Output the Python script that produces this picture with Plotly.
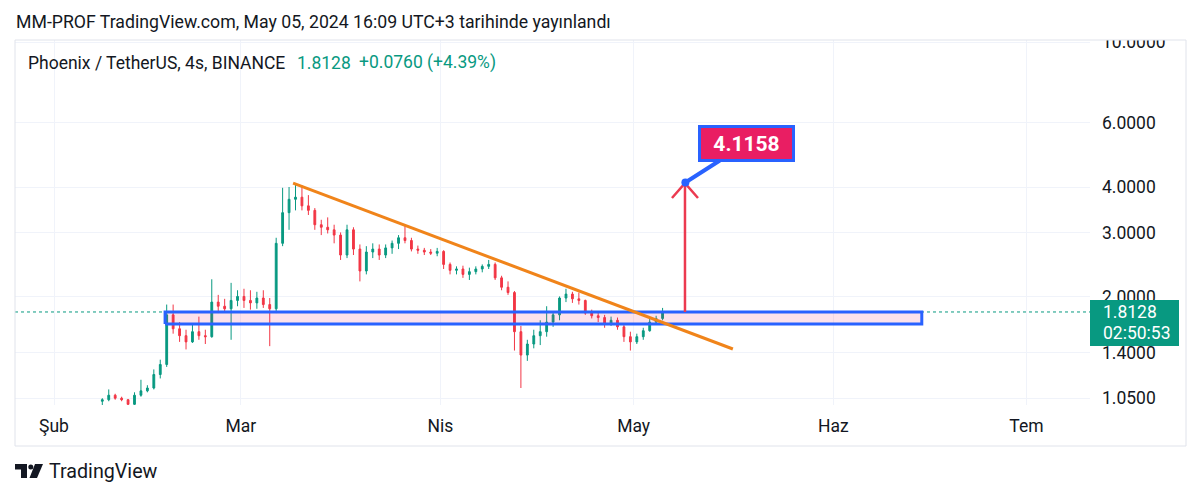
import numpy as np
import pandas as pd
import plotly.graph_objects as go

# ---------------- data (daily OHLC) ----------------
dates = pd.date_range("2024-02-08", "2024-05-05", freq="D")
opens = [1.03, 1.04, 1.07, 1.05, 1.04, 1.01, 1.07, 1.10, 1.12, 1.22,
         1.30, 1.78, 1.63, 1.56, 1.50, 1.60, 1.56, 1.55, 1.93, 1.88,
         1.85, 1.95, 2.00, 1.95, 1.92, 1.98, 1.90, 1.85, 2.80, 3.40,
         3.70, 3.75, 3.55, 3.45, 3.15, 3.10, 3.05, 2.95, 2.60, 3.05,
         2.70, 2.35, 2.65, 2.70, 2.60, 2.72, 2.80, 2.90, 2.85, 2.70,
         2.68, 2.65, 2.63, 2.66, 2.45, 2.36, 2.38, 2.30, 2.34, 2.38,
         2.42, 2.45, 2.25, 2.12, 2.05, 1.60, 1.38, 1.48, 1.56, 1.60,
         1.70, 1.78, 1.98, 2.03, 1.97, 1.95, 1.80, 1.77, 1.75, 1.68,
         1.72, 1.65, 1.55, 1.50, 1.55, 1.61, 1.70, 1.74]
highs = [1.05, 1.11, 1.08, 1.06, 1.045, 1.09, 1.18, 1.14, 1.26, 1.34,
         1.90, 1.90, 1.70, 1.62, 1.68, 1.76, 1.62, 2.23, 2.02, 1.97,
         2.18, 2.08, 2.10, 2.08, 2.06, 2.08, 1.98, 2.90, 3.98, 4.00,
         4.10, 4.05, 3.80, 3.50, 3.25, 3.30, 3.15, 3.00, 3.15, 3.10,
         2.78, 2.75, 2.80, 2.78, 2.78, 2.85, 2.95, 3.13, 2.90, 2.76,
         2.72, 2.70, 2.72, 2.68, 2.48, 2.42, 2.43, 2.40, 2.42, 2.45,
         2.52, 2.48, 2.28, 2.20, 2.07, 1.66, 1.52, 1.62, 1.72, 1.88,
         1.82, 2.00, 2.10, 2.06, 2.05, 1.96, 1.84, 1.82, 1.78, 1.76,
         1.75, 1.68, 1.60, 1.58, 1.64, 1.74, 1.77, 1.86]
lows = [1.00, 1.03, 1.04, 1.03, 0.98, 1.00, 1.06, 1.09, 1.11, 1.19,
        1.28, 1.58, 1.50, 1.43, 1.49, 1.52, 1.48, 1.54, 1.80, 1.82,
        1.52, 1.88, 1.86, 1.84, 1.85, 1.86, 1.46, 1.80, 2.75, 3.05,
        3.45, 3.45, 3.35, 3.05, 2.95, 2.98, 2.80, 2.52, 2.55, 2.60,
        2.20, 2.30, 2.55, 2.52, 2.55, 2.62, 2.70, 2.80, 2.66, 2.62,
        2.60, 2.60, 2.58, 2.38, 2.30, 2.30, 2.25, 2.22, 2.30, 2.33,
        2.38, 2.22, 2.08, 2.02, 1.42, 1.12, 1.33, 1.44, 1.47, 1.55,
        1.65, 1.72, 1.93, 1.92, 1.90, 1.78, 1.74, 1.70, 1.64, 1.66,
        1.62, 1.50, 1.42, 1.48, 1.52, 1.60, 1.67, 1.72]
closes = [1.04, 1.07, 1.05, 1.04, 1.01, 1.07, 1.10, 1.12, 1.22, 1.30,
          1.78, 1.63, 1.56, 1.50, 1.60, 1.56, 1.55, 1.93, 1.88, 1.85,
          1.95, 2.00, 1.95, 1.92, 1.98, 1.90, 1.85, 2.80, 3.40, 3.70,
          3.75, 3.55, 3.45, 3.15, 3.10, 3.05, 2.95, 2.60, 3.05, 2.70,
          2.35, 2.65, 2.70, 2.60, 2.72, 2.80, 2.90, 2.85, 2.70, 2.68,
          2.65, 2.63, 2.66, 2.45, 2.36, 2.38, 2.30, 2.34, 2.38, 2.42,
          2.45, 2.25, 2.12, 2.05, 1.60, 1.38, 1.48, 1.56, 1.60, 1.70,
          1.78, 1.98, 2.03, 1.97, 1.95, 1.80, 1.77, 1.75, 1.68, 1.72,
          1.65, 1.55, 1.50, 1.55, 1.61, 1.70, 1.74, 1.8128]

last_price = 1.8128
month_ticks = ["2024-02-01", "2024-03-01", "2024-04-01", "2024-05-01", "2024-06-01", "2024-07-01"]
month_labels = ["Şub", "Mar", "Nis", "May", "Haz", "Tem"]
price_ticks = [1.05, 1.4, 2, 3, 4, 6, 10]
price_labels = ["1.0500", "1.4000", "2.0000", "3.0000", "4.0000", "6.0000", "10.0000"]

# drawing anchors (date, price)
trend_dates = ["2024-03-09 03:00", "2024-05-16 10:00"]
trend_prices = [4.10, 1.434]
zone_dates = ["2024-02-18 06:00", "2024-06-14 18:00"]
zone_prices = [1.68, 1.812]
arrow_date = "2024-05-08 23:30"
arrow_prices = [1.812, 4.10]
head_dates = ["2024-05-06 23:00", "2024-05-08 23:30", "2024-05-11 00:00"]
head_prices = [3.73, 4.10, 3.73]
target_date = "2024-05-09 01:00"
target_price = 4.1158

# ---------------- layout geometry ----------------
W, H = 1200, 498
L, R, T, B = 15, 1090, 40, 405
x_range = [pd.Timestamp("2024-02-01") - pd.Timedelta(days=6.056),
           pd.Timestamp("2024-02-01") + pd.Timedelta(days=160.87)]
ppd = 363.6  # pixels per decade
y_range = [np.log10(4) - (B - 187) / ppd, np.log10(4) + (187 - T) / ppd]

def PX(px):
    return (px - L) / (R - L)

def PY(py):
    return (B - py) / (B - T)

UP, DOWN = "#089981", "#f23645"
TXT = "#131722"
GRID = "#f0f3fa"
BLUE = "#2962ff"
FS = 17.5

fig = go.Figure()
candle_x = [d + pd.Timedelta(hours=12) for d in dates]
fig.add_trace(go.Candlestick(
    x=candle_x, open=opens, high=highs, low=lows, close=closes,
    increasing=dict(line=dict(color=UP, width=1), fillcolor=UP),
    decreasing=dict(line=dict(color=DOWN, width=1), fillcolor=DOWN),
    whiskerwidth=0, showlegend=False, hoverinfo="skip"))

# last price dotted line
fig.add_trace(go.Scatter(x=x_range, y=[last_price, last_price], mode="lines",
                         line=dict(color=UP, width=1, dash="dot"),
                         showlegend=False, hoverinfo="skip"))

# zone rectangle
zx = [zone_dates[0], zone_dates[1], zone_dates[1], zone_dates[0], zone_dates[0]]
zy = [zone_prices[0], zone_prices[0], zone_prices[1], zone_prices[1], zone_prices[0]]
fig.add_trace(go.Scatter(x=zx, y=zy, mode="lines", fill="toself",
                         fillcolor="rgba(233,30,99,0.13)",
                         line=dict(color=BLUE, width=3),
                         showlegend=False, hoverinfo="skip"))

# trend line
fig.add_trace(go.Scatter(x=trend_dates, y=trend_prices, mode="lines",
                         line=dict(color="#f0841a", width=3),
                         showlegend=False, hoverinfo="skip"))

# red arrow
fig.add_trace(go.Scatter(x=[arrow_date, arrow_date], y=arrow_prices, mode="lines",
                         line=dict(color="#ec3a50", width=2.5),
                         showlegend=False, hoverinfo="skip"))
fig.add_trace(go.Scatter(x=head_dates, y=head_prices, mode="lines",
                         line=dict(color="#ec3a50", width=2.5),
                         showlegend=False, hoverinfo="skip"))

# callout dot
fig.add_trace(go.Scatter(x=[target_date], y=[target_price], mode="markers",
                         marker=dict(color=BLUE, size=8),
                         showlegend=False, hoverinfo="skip"))

annotations = [
    dict(x=target_date, y=np.log10(target_price), xref="x", yref="y",
         text="<b>4.1158</b>", showarrow=True, ax=61, ay=-39,
         arrowhead=0, arrowwidth=4, arrowcolor=BLUE, standoff=0,
         bgcolor="#e91e63", bordercolor=BLUE, borderwidth=3, borderpad=4,
         width=83, height=23, font=dict(family="Roboto", size=21, color="white")),
    dict(x=PX(14), y=PY(22), xref="paper", yref="paper", xanchor="left", yanchor="middle",
         text="MM-PROF TradingView.com, May 05, 2024 16:09 UTC+3 tarihinde yayınlandı",
         showarrow=False, font=dict(family="Roboto", size=17.7, color=TXT)),
    dict(x=PX(26), y=PY(63), xref="paper", yref="paper", xanchor="left", yanchor="middle",
         text="Phoenix / TetherUS, 4s, BINANCE", showarrow=False,
         font=dict(family="Roboto", size=FS, color=TXT)),
    dict(x=PX(295), y=PY(63), xref="paper", yref="paper", xanchor="left", yanchor="middle",
         text="1.8128", showarrow=False, font=dict(family="Roboto", size=FS, color=UP)),
    dict(x=PX(357), y=PY(63), xref="paper", yref="paper", xanchor="left", yanchor="middle",
         text="+0.0760 (+4.39%)", showarrow=False, font=dict(family="Roboto", size=FS, color=UP)),
    dict(x=PX(1101), y=PY(312), xref="paper", yref="paper", xanchor="left", yanchor="middle",
         text="1.8128", showarrow=False, font=dict(family="Roboto", size=FS, color="white")),
    dict(x=PX(1101), y=PY(333), xref="paper", yref="paper", xanchor="left", yanchor="middle",
         text="02:50:53", showarrow=False, font=dict(family="Roboto", size=FS, color="white")),
    dict(x=PX(47), y=PY(471), xref="paper", yref="paper", xanchor="left", yanchor="middle",
         text="TradingView", showarrow=False, font=dict(family="Roboto", size=19.7, color=TXT)),
]

def path(points):
    return "M " + " L ".join(f"{PX(a):.5f},{PY(b):.5f}" for a, b in points) + " Z"

shapes = [
    # mask above plot top (hides upper half of 10.0000)
    dict(type="rect", xref="paper", yref="paper", x0=PX(0), x1=PX(1200), y0=PY(40), y1=PY(0),
         fillcolor="white", line=dict(width=0), layer="above"),
    # mask under price axis bottom
    dict(type="rect", xref="paper", yref="paper", x0=PX(1091), x1=PX(1185), y0=PY(444), y1=PY(405.5),
         fillcolor="white", line=dict(width=0), layer="above"),
    # frame
    dict(type="rect", xref="paper", yref="paper", x0=PX(15), x1=PX(1186), y0=PY(446), y1=PY(40),
         line=dict(color="#e0e3eb", width=1), fillcolor="rgba(0,0,0,0)", layer="above"),
    # price label box
    dict(type="rect", xref="paper", yref="paper", x0=PX(1090), x1=PX(1179), y0=PY(346), y1=PY(300),
         fillcolor=UP, line=dict(width=0), layer="above"),
    # logo
    dict(type="path", xref="paper", yref="paper",
         path=path([(15, 464), (27, 464), (27, 478), (21, 478), (21, 469.5), (15, 469.5)]),
         fillcolor=TXT, line=dict(width=0), layer="above"),
    dict(type="circle", xref="paper", yref="paper", x0=PX(28.3), x1=PX(33.3), y0=PY(469.5), y1=PY(464.5),
         fillcolor=TXT, line=dict(width=0), layer="above"),
    dict(type="path", xref="paper", yref="paper",
         path=path([(35, 464), (43, 464), (37, 478), (29.5, 478)]),
         fillcolor=TXT, line=dict(width=0), layer="above"),
]

fig.update_layout(
    width=W, height=H,
    margin=dict(l=L, r=W - R, t=T, b=H - B),
    paper_bgcolor="white", plot_bgcolor="white",
    font=dict(family="Roboto", color=TXT),
    showlegend=False, boxgap=0.6,
    annotations=annotations, shapes=shapes,
    xaxis=dict(type="date", range=x_range, tickvals=month_ticks, ticktext=month_labels,
               showgrid=True, gridcolor=GRID, gridwidth=1, zeroline=False, showline=False,
               ticks="", ticklabelstandoff=8, tickfont=dict(family="Roboto", size=FS, color=TXT),
               rangeslider=dict(visible=False), fixedrange=True),
    yaxis=dict(type="log", range=y_range, side="right", tickvals=price_ticks, ticktext=price_labels,
               showgrid=True, gridcolor=GRID, gridwidth=1, zeroline=False, showline=False,
               ticks="", ticklabelstandoff=11, tickfont=dict(family="Roboto", size=FS, color=TXT),
               fixedrange=True),
)

fig.write_html("out.html", config={"displayModeBar": False})
with open("out.html", encoding="utf-8") as f:
    html = f.read()
html = html.replace("<body>", '<body style="margin:0;padding:0;">', 1)
with open("out.html", "w", encoding="utf-8") as f:
    f.write(html)
